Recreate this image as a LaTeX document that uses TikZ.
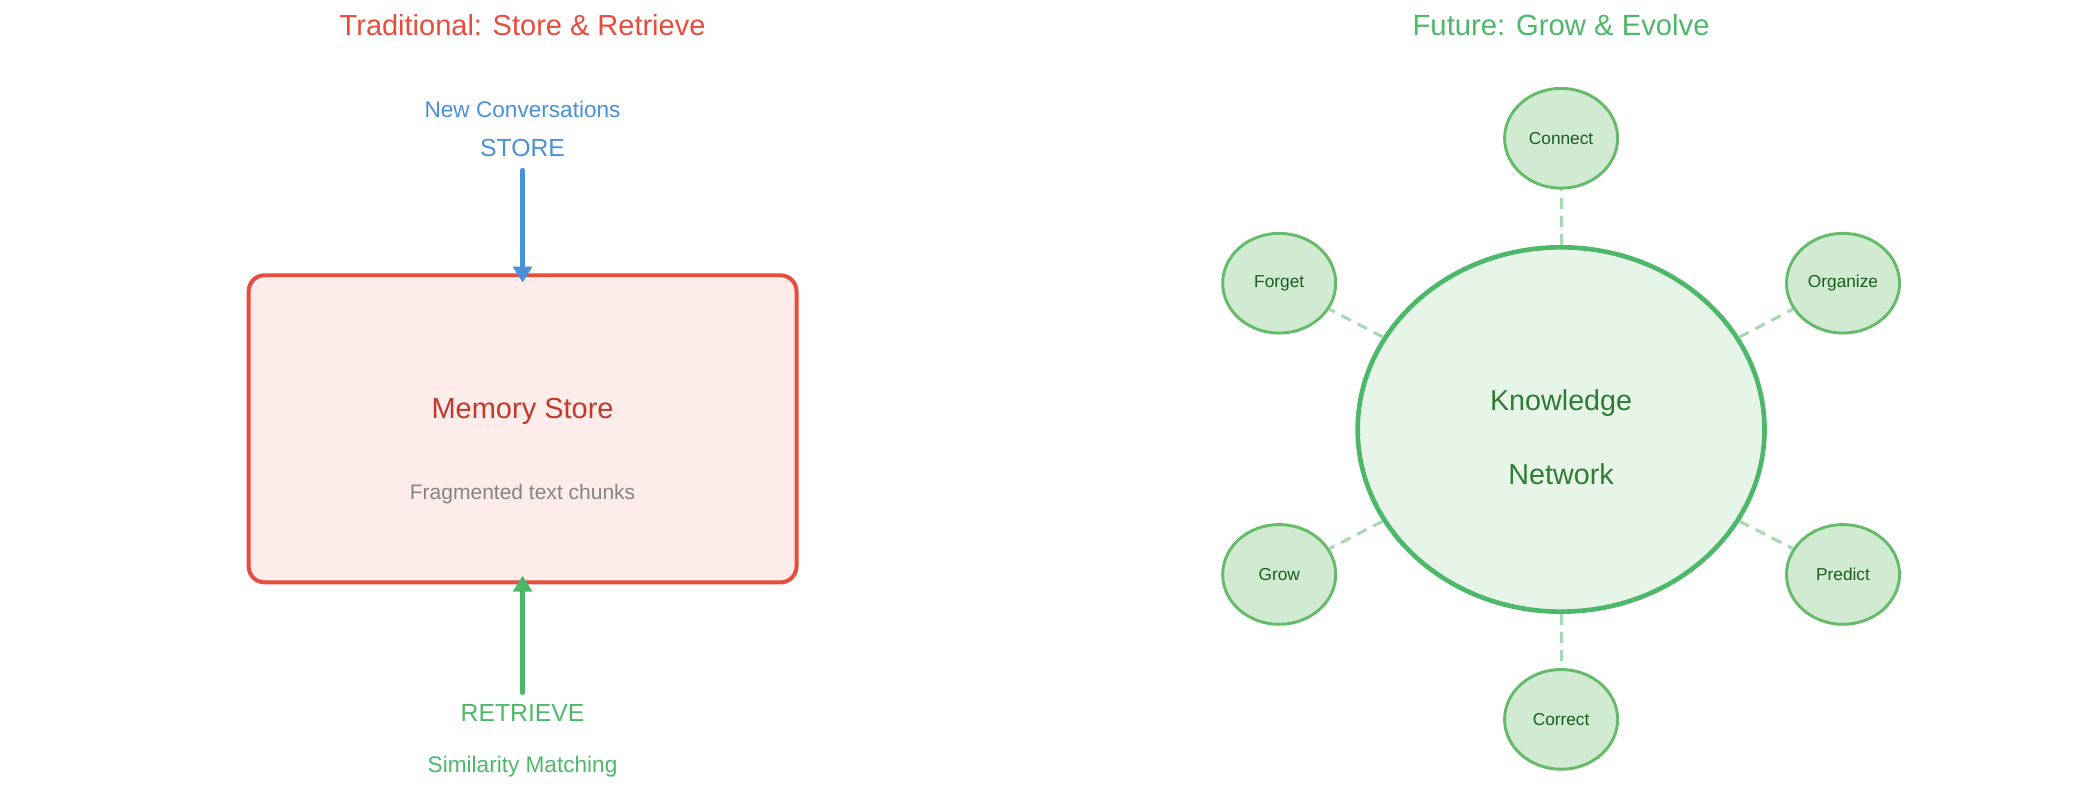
\documentclass[tikz,border=0pt]{standalone}
\usepackage{fontspec}
\setmainfont{Liberation Sans}
\usetikzlibrary{shapes.geometric,arrows.meta}
\definecolor{tred}{HTML}{E74C3C}
\definecolor{dred}{HTML}{C0392B}
\definecolor{rfill}{HTML}{FDECEA}
\definecolor{tgrey}{HTML}{858585}
\definecolor{tblue}{HTML}{4A90D9}
\definecolor{tgreen}{HTML}{4DB86A}
\definecolor{kfill}{HTML}{E7F5E9}
\definecolor{ktext}{HTML}{2E7D32}
\definecolor{sfill}{HTML}{D0EBD2}
\definecolor{sborder}{HTML}{66BB6A}
\definecolor{stext}{HTML}{1B5E20}
\definecolor{dashc}{HTML}{A8D8AE}
\tikzset{
  txt/.style={inner sep=0pt, anchor=base},
  fs/.style={font=\fontsize{#1}{#1}\selectfont},
  membox/.style={draw=tred, fill=rfill, line width=1.5pt, rounded corners=6pt,
    minimum width=206pt, minimum height=115.5pt, inner sep=0pt},
  bigell/.style={ellipse, draw=tgreen, fill=kfill, line width=1.75pt,
    minimum width=153pt, minimum height=137pt, inner sep=0pt},
  smallell/.style={ellipse, draw=sborder, fill=sfill, line width=1.1pt,
    minimum width=42.5pt, minimum height=37.5pt, inner sep=0pt,
    text=stext, font=\fontsize{6.5}{6.5}\selectfont},
  linkdash/.style={draw=dashc, line width=1.15pt, dash pattern=on 4pt off 2.8pt},
  flowarrow/.style={line width=1.75pt, line cap=round,
    -{Triangle[length=6pt,width=7pt]}},
}
\begin{document}
\begin{tikzpicture}[x=0.5pt,y=-0.5pt]
\useasboundingbox (0,0) rectangle (1568,608.4);
% ---------- left: traditional ----------
\node[txt, fs=10.9, text=tred] (ltitle) at (393,26.5) {Traditional: Store \& Retrieve};
\node[txt, fs=8.5, text=tblue] (newconv) at (393,88) {New Conversations};
\node[txt, fs=9.3, text=tblue] (storelbl) at (393,117.5) {STORE};
\node[membox] (mem) at (393,322.5) {};
\node[txt, fs=10.9, text=dred] (memtitle) at (393,315) {Memory Store};
\node[txt, fs=7.9, text=tgrey] (memsub) at (393,375.5) {Fragmented text chunks};
\node[txt, fs=9.3, text=tgreen] (retlbl) at (393,542.5) {RETRIEVE};
\node[txt, fs=8.5, text=tgreen] (simlbl) at (393,581) {Similarity Matching};
\coordinate (storestart) at (393,128);
\coordinate (retstart) at (393,521);
\draw[flowarrow, draw=tblue, fill=tblue, shorten >=-3.5pt] (storestart) -- (mem.north);
\draw[flowarrow, draw=tgreen, fill=tgreen, shorten >=-3.3pt] (retstart) -- (mem.south);
% ---------- right: future ----------
\node[txt, fs=11, text=tgreen] (rtitle) at (1174,26.5) {Future: Grow \& Evolve};
\node[bigell] (kn) at (1174,323) {};
\node[txt, fs=10.8, text=ktext] (kn1) at (1174,309) {Knowledge};
\node[txt, fs=10.8, text=ktext] (kn2) at (1174,364) {Network};
\node[smallell] (connect) at (1174,104) {Connect};
\node[smallell] (forget) at (962,213) {Forget};
\node[smallell] (organize) at (1386,213) {Organize};
\node[smallell] (grow) at (962,432) {Grow};
\node[smallell] (predict) at (1386,432) {Predict};
\node[smallell] (correct) at (1174,541) {Correct};
\foreach \n in {connect,forget,organize,grow,predict,correct}
  \draw[linkdash] (kn) -- (\n);
\end{tikzpicture}
\end{document}
